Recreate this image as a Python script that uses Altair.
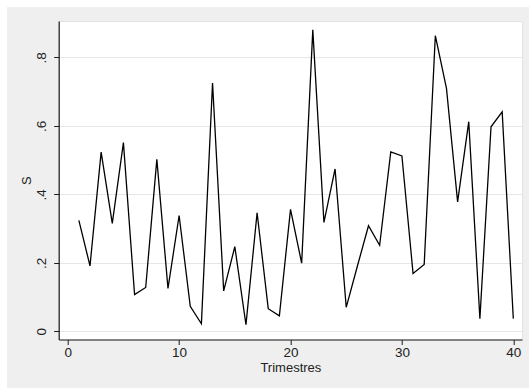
import altair as alt
import pandas as pd

# Quarter index and the S series
trimestres = list(range(1, 41))
s_values = [
    0.324, 0.191, 0.523, 0.315, 0.551, 0.107, 0.128, 0.502, 0.125, 0.338,
    0.073, 0.022, 0.725, 0.118, 0.247, 0.019, 0.346, 0.066, 0.045, 0.356,
    0.199, 0.880, 0.318, 0.474, 0.070, 0.190, 0.308, 0.251, 0.524, 0.512,
    0.169, 0.195, 0.863, 0.709, 0.378, 0.612, 0.037, 0.597, 0.641, 0.037,
]
x_ticks = [0, 10, 20, 30, 40]
y_ticks = [0, 0.2, 0.4, 0.6, 0.8]

df = pd.DataFrame({"Trimestres": trimestres, "S": s_values})

W, H = 463.3, 318.5
PAD_L, PAD_T = 58.7, 21

x_scale = alt.Scale(domain=[-0.81, 40.78], nice=False, zero=False)
y_scale = alt.Scale(domain=[-0.024, 0.906], nice=False, zero=False)

# Stata-style labels: 0, .2, .4, ...
label_expr = "datum.value == 0 ? '0' : replace(format(datum.value, '.1f'), '0.', '.')"

x_axis = alt.Axis(
    values=x_ticks, title="Trimestres", grid=False,
    domainColor="#1a1a1a", domainWidth=1.2, tickColor="#1a1a1a", tickSize=5, tickWidth=1,
    labelFont="Liberation Sans", labelFontSize=13.5, labelColor="#222222", labelPadding=1,
    titleFont="Liberation Sans", titleFontSize=13, titleFontWeight="normal",
    titleColor="#222222", titlePadding=2,
)
y_axis = alt.Axis(
    values=y_ticks, title="S", grid=True, gridColor="#E6E6E6", gridWidth=1,
    labelExpr=label_expr, labelAngle=270, labelAlign="center", labelBaseline="bottom",
    domainColor="#1a1a1a", domainWidth=1.2, tickColor="#1a1a1a", tickSize=5, tickWidth=1,
    labelFont="Liberation Sans", labelFontSize=13.5, labelColor="#222222", labelPadding=5,
    titleFont="Liberation Sans", titleFontSize=13, titleFontWeight="normal",
    titleColor="#222222", titlePadding=1,
)

line = alt.Chart(df).mark_line(color="black", strokeWidth=1.3, clip=True).encode(
    x=alt.X("Trimestres:Q", scale=x_scale, axis=x_axis),
    y=alt.Y("S:Q", scale=y_scale, axis=y_axis),
)

# thin white margin around the grey graph region
strip_df = pd.DataFrame({
    "x0": [-PAD_L, -PAD_L], "x1": [529 - PAD_L, -PAD_L + 7],
    "y0": [-PAD_T, -PAD_T], "y1": [-PAD_T + 7, 388 - PAD_T],
})
strips = alt.Chart(strip_df).mark_rect(color="white", clip=False).encode(
    x=alt.X("x0:Q", scale=None), x2="x1:Q",
    y=alt.Y("y0:Q", scale=None), y2="y1:Q",
)

chart = alt.layer(strips, line).properties(
    width=W, height=H,
    autosize=alt.AutoSizeParams(type="none"),
    padding={"left": PAD_L, "top": PAD_T, "right": 529 - PAD_L - W, "bottom": 388 - PAD_T - H},
    background="#EFEFEF",
).configure_view(fill="white", stroke="#E2E2E2", strokeWidth=1)

chart.save("out.html", embed_options={"renderer": "svg", "actions": False})
